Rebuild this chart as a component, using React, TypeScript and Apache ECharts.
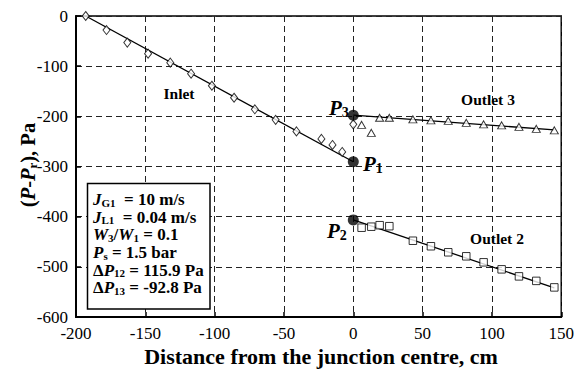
import React, { useEffect, useRef } from "react";
import * as echarts from "echarts";

// Measured pressure profiles along each branch of the junction
const inletX = [-193, -178, -163, -148, -132, -117, -102, -86, -71, -56, -41, -23, -15, -8, 0];
const inletY = [0, -28, -53, -75, -93, -115, -139, -163, -186, -207, -230, -245, -257, -271, -216];

const outletX = [6, 13, 19, 26, 43, 56, 68.5, 81.5, 94, 107, 119.5, 132, 145];
const outlet3Y = [-217, -233, -203, -203, -206, -208, -209, -213, -216, -218, -221, -225, -228];
const outlet2Y = [-422, -420, -417, -419, -448, -459, -471, -479, -491, -505, -519, -528, -541];

// Extrapolated junction pressures and the stated differences
const P1 = -290.5;
const dP12 = 115.9;
const dP13 = -92.8;
const P2 = P1 - dP12;
const P3 = P1 - dP13;

// Fitted straight lines (start point / end points)
const inletStart: [number, number] = [-193, 0];
const outlet3End: [number, number] = [145, -227];
const outlet2End: [number, number] = [145, -542];

const xTicks = { min: -200, max: 150, interval: 50 };
const yTicks = { min: -600, max: 0, interval: 100 };

const FONT = "Liberation Serif";

const zip = (xs: number[], ys: number[]) => xs.map((x, i) => [x, ys[i]]);

export default function App() {
  const ref = useRef<HTMLDivElement>(null);

  useEffect(() => {
    document.body.style.margin = "0";
    if (!ref.current) return;
    const chart = echarts.init(ref.current, undefined, { renderer: "svg" });

    const legendRich = {
      b: { fontFamily: FONT, fontWeight: "bold", fontSize: 17, lineHeight: 17.7, verticalAlign: "middle" },
      i: { fontFamily: FONT, fontWeight: "bold", fontStyle: "italic", fontSize: 17, lineHeight: 17.7, verticalAlign: "middle" },
      s: { fontFamily: FONT, fontWeight: "bold", fontSize: 11, lineHeight: 11, verticalAlign: "middle", padding: [6.6, 0, 0, 0] },
    };

    const pRich = {
      i: { fontFamily: FONT, fontWeight: "bold", fontStyle: "italic", fontSize: 21, lineHeight: 21, verticalAlign: "middle" },
      s: { fontFamily: FONT, fontWeight: "bold", fontSize: 14, lineHeight: 14, verticalAlign: "middle", padding: [8, 0, 0, 0] },
    };

    const labelStyle = {
      fontFamily: FONT,
      fontWeight: "bold",
      fontSize: 15.5,
      fill: "#000",
      align: "center",
      verticalAlign: "middle",
    };

    const pLabel = (x: number, y: number, sub: string) => ({
      type: "text",
      x,
      y,
      z: 100,
      style: {
        text: `{i|P}{s|${sub}}`,
        rich: pRich,
        align: "left",
        verticalAlign: "middle",
        fill: "#000",
      },
    });

    chart.setOption({
      animation: false,
      textStyle: { fontFamily: FONT },
      grid: {
        left: 76,
        right: 13,
        top: 16,
        bottom: 53,
        show: true,
        borderColor: "#000",
        borderWidth: 1.5,
        backgroundColor: "#fff",
      },
      xAxis: {
        type: "value",
        ...xTicks,
        axisLine: { show: true, onZero: false, lineStyle: { color: "#000", width: 2 } },
        axisTick: { show: true, inside: true, length: 5, lineStyle: { color: "#000", width: 1.5 } },
        axisLabel: { color: "#000", fontFamily: FONT, fontSize: 17, margin: 8 },
        splitLine: { show: true, lineStyle: { color: "#222", width: 1, type: [6, 4] } },
      },
      yAxis: {
        type: "value",
        ...yTicks,
        axisLine: { show: true, onZero: false, lineStyle: { color: "#000", width: 2 } },
        axisTick: { show: true, inside: true, length: 5, lineStyle: { color: "#000", width: 1.5 } },
        axisLabel: { color: "#000", fontFamily: FONT, fontSize: 17, margin: 8 },
        splitLine: { show: true, lineStyle: { color: "#222", width: 1, type: [6, 4] } },
      },
      series: [
        {
          name: "Inlet fit",
          type: "line",
          data: [inletStart, [0, P1]],
          symbol: "none",
          lineStyle: { color: "#000", width: 1.3 },
          z: 3,
        },
        {
          name: "Outlet 3 fit",
          type: "line",
          data: [[0, P3], outlet3End],
          symbol: "none",
          lineStyle: { color: "#000", width: 1.3 },
          z: 3,
        },
        {
          name: "Outlet 2 fit",
          type: "line",
          data: [[0, P2], outlet2End],
          symbol: "none",
          lineStyle: { color: "#000", width: 1.3 },
          z: 3,
        },
        {
          name: "Inlet",
          type: "scatter",
          data: zip(inletX, inletY),
          symbol: "diamond",
          symbolSize: [7, 9],
          itemStyle: { color: "#fff", borderColor: "#000", borderWidth: 1 },
          z: 4,
        },
        {
          name: "Outlet 3",
          type: "scatter",
          data: zip(outletX, outlet3Y),
          symbol: "triangle",
          symbolSize: [8, 7],
          itemStyle: { color: "#fff", borderColor: "#000", borderWidth: 1 },
          z: 4,
        },
        {
          name: "Outlet 2",
          type: "scatter",
          data: zip(outletX, outlet2Y),
          symbol: "rect",
          symbolSize: 7.5,
          itemStyle: { color: "#fff", borderColor: "#000", borderWidth: 1 },
          z: 4,
        },
        {
          name: "Junction",
          type: "scatter",
          data: [[0, P1], [0, P2], [0, P3]],
          symbol: "circle",
          symbolSize: 11,
          itemStyle: { color: "#000" },
          z: 5,
        },
      ],
      graphic: [
        { type: "text", x: 179, y: 93, z: 100, style: { ...labelStyle, text: "Inlet" } },
        { type: "text", x: 488, y: 99, z: 100, style: { ...labelStyle, text: "Outlet 3" } },
        { type: "text", x: 497, y: 238, z: 100, style: { ...labelStyle, text: "Outlet 2" } },
        pLabel(329, 108, "3"),
        pLabel(363, 164, "1"),
        pLabel(327, 231, "2"),
        {
          type: "rect",
          z: 100,
          shape: { x: 87.5, y: 183.5, width: 122.5, height: 125.5 },
          style: { fill: "#fff", stroke: "#000", lineWidth: 1.5 },
        },
        {
          type: "text",
          x: 93,
          y: 190.5,
          z: 101,
          style: {
            text: [
              "{i|J}{s|G1}{b|  = 10 m/s}",
              "{i|J}{s|L1}{b|  = 0.04 m/s}",
              "{i|W}{s|3}{b|/}{i|W}{s|1}{b| = 0.1}",
              "{i|P}{s|s}{b| = 1.5 bar}",
              "{b|Δ}{i|P}{s|12}{b| = 115.9 Pa}",
              "{b|Δ}{i|P}{s|13}{b| = -92.8 Pa}",
            ].join("\n"),
            rich: legendRich,
            align: "left",
            verticalAlign: "top",
            fill: "#000",
          },
        },
        {
          type: "text",
          x: 321,
          y: 356,
          z: 100,
          style: {
            text: "Distance from the junction centre, cm",
            fontFamily: FONT,
            fontWeight: "bold",
            fontSize: 22,
            fill: "#000",
            align: "center",
            verticalAlign: "middle",
          },
        },
        {
          type: "text",
          x: 28,
          y: 165,
          rotation: Math.PI / 2,
          z: 100,
          style: {
            text: "{b|(}{i|P}{b|-}{i|P}{s|r}{b|), Pa}",
            rich: {
              b: { fontFamily: FONT, fontWeight: "bold", fontSize: 20.5, lineHeight: 20, verticalAlign: "middle" },
              i: { fontFamily: FONT, fontWeight: "bold", fontStyle: "italic", fontSize: 20.5, lineHeight: 20, verticalAlign: "middle" },
              s: { fontFamily: FONT, fontWeight: "bold", fontSize: 13, lineHeight: 13, verticalAlign: "middle", padding: [8, 0, 0, 0] },
            },
            align: "center",
            verticalAlign: "middle",
            fill: "#000",
          },
        },
      ],
    });

    return () => chart.dispose();
  }, []);

  return <div ref={ref} style={{ width: 577, height: 370 }} />;
}
